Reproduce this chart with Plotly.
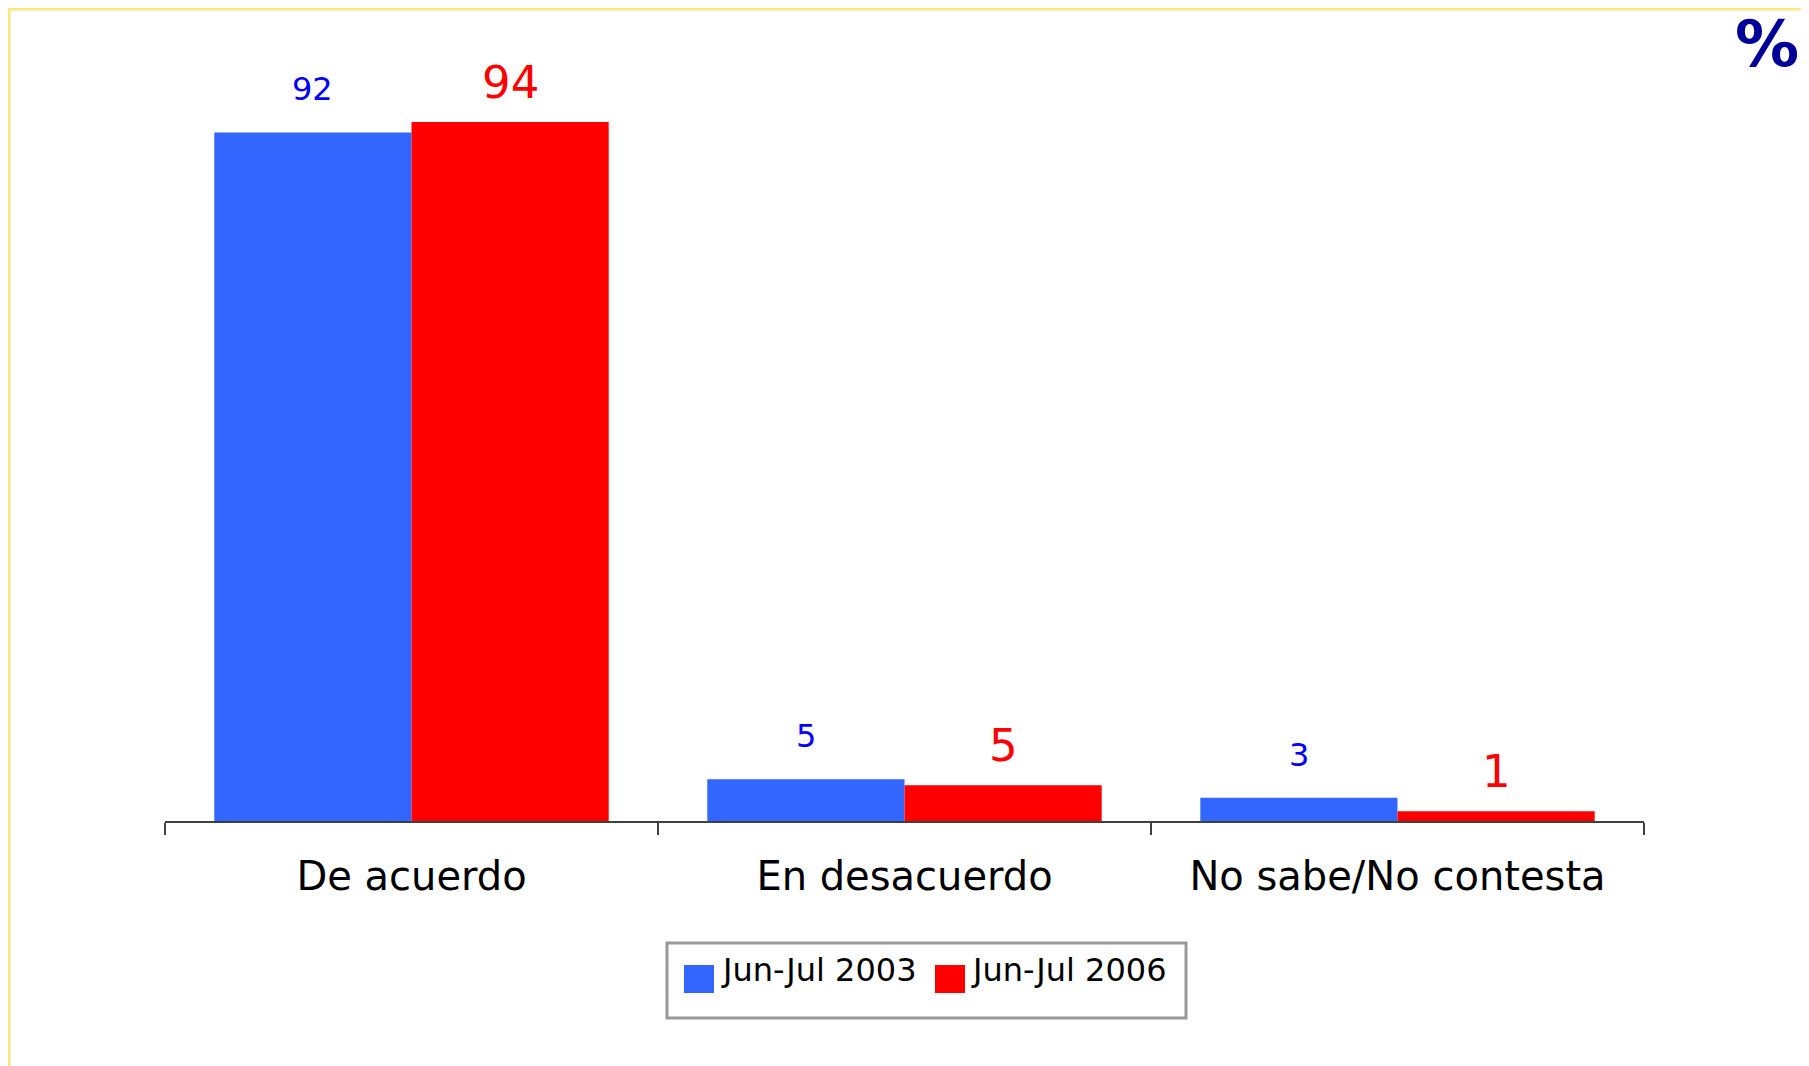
import plotly.graph_objects as go

categories = ["De acuerdo", "En desacuerdo", "No sabe/No contesta"]
series_names = ["Jun-Jul 2003", "Jun-Jul 2006"]
values_2003 = [92.3, 5.6, 3.1]
values_2006 = [93.7, 4.8, 1.3]
labels_2003 = ["92", "5", "3"]
labels_2006 = ["94", "5", "1"]

W, H = 1809, 1066
OFF = 8  # the page puts the figure 8px in from the window corner
L, R, T, B = 165 - OFF, 173, 75 - OFF, 253
FONT = "DejaVu Sans"
BLUE, RED = "#3366ff", "#ff0000"


def xp(px):
    # window pixel -> paper x
    return (px - OFF - L) / (W - L - R)


def yp(py):
    # window pixel -> paper y
    return (H - B - (py - OFF)) / (H - T - B)


fig = go.Figure()
fig.add_trace(go.Bar(x=categories, y=values_2003, name=series_names[0],
                     marker=dict(color=BLUE, line=dict(width=0))))
fig.add_trace(go.Bar(x=categories, y=values_2006, name=series_names[1],
                     marker=dict(color=RED, line=dict(width=0))))

# value labels above each bar
half_bar = (W - L - R) / len(categories) * 0.8 / 4
for cat, v, lab in zip(categories, values_2003, labels_2003):
    fig.add_annotation(x=cat, y=v, text=lab, showarrow=False, xshift=-half_bar,
                       yanchor="bottom", yshift=22,
                       font=dict(family=FONT, size=32, color="#0000ff"))
for cat, v, lab in zip(categories, values_2006, labels_2006):
    fig.add_annotation(x=cat, y=v, text=lab, showarrow=False, xshift=half_bar,
                       yanchor="bottom", yshift=11,
                       font=dict(family=FONT, size=45, color="#ff0000"))

# percent sign in the top right corner
fig.add_annotation(xref="paper", yref="paper", x=xp(1733), y=yp(5), text="<b>%</b>",
                   showarrow=False, xanchor="left", yanchor="top",
                   font=dict(family=FONT, size=64, color="#000099"))

# page frame
shapes = [dict(type="rect", xref="paper", yref="paper", layer="below",
               x0=xp(9), x1=xp(W + 30), y0=yp(9), y1=yp(H + 30),
               line=dict(color="#ffe680", width=3), fillcolor="white")]

# legend drawn by hand so the swatches match the original size
shapes.append(dict(type="rect", xref="paper", yref="paper",
                   x0=xp(667), x1=xp(1186), y0=yp(943), y1=yp(1018),
                   line=dict(color="#999999", width=3), fillcolor="white"))
for sx, tx, color, name in [(684, 719, BLUE, series_names[0]), (935, 969, RED, series_names[1])]:
    shapes.append(dict(type="rect", xref="paper", yref="paper",
                       x0=xp(sx), x1=xp(sx + 30), y0=yp(965), y1=yp(993),
                       line=dict(width=0), fillcolor=color))
    fig.add_annotation(xref="paper", yref="paper", x=xp(tx), y=yp(970), text=name,
                       showarrow=False, xanchor="left", yanchor="middle",
                       font=dict(family=FONT, size=32, color="black"))

fig.update_layout(
    width=W, height=H,
    margin=dict(l=L, r=R, t=T, b=B),
    paper_bgcolor="white",
    plot_bgcolor="rgba(0,0,0,0)",
    barmode="group", bargap=0.2, bargroupgap=0,
    showlegend=False,
    shapes=shapes,
    font=dict(family=FONT),
)
fig.update_xaxes(showline=True, linecolor="#404040", linewidth=1.5,
                 ticks="outside", tickson="boundaries", ticklen=12,
                 tickcolor="#404040", tickwidth=1.5, showgrid=False,
                 ticklabelstandoff=19,
                 tickfont=dict(family=FONT, size=40, color="black"))
fig.update_yaxes(visible=False, range=[0, 100])

fig.write_html("out.html")
